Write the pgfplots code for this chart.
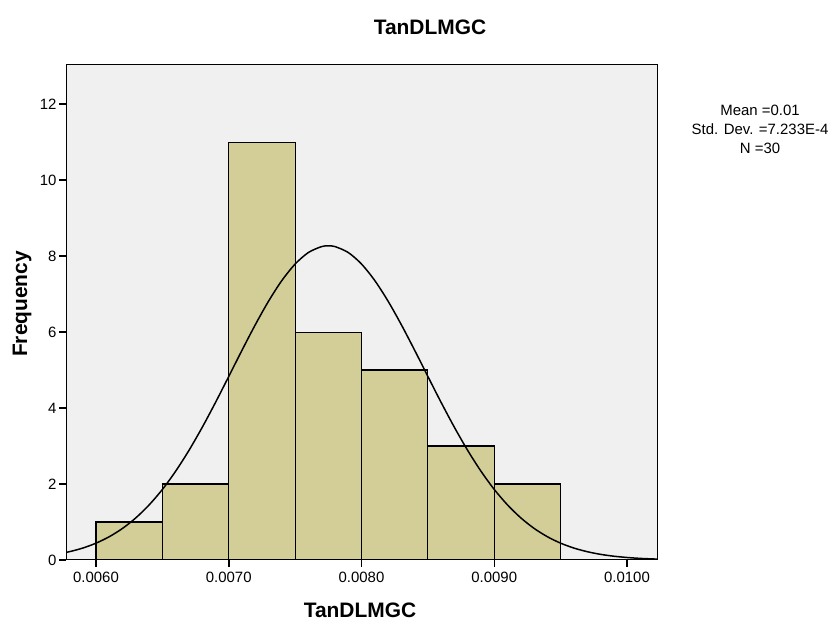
\documentclass[border=0pt]{standalone}
\usepackage{fontspec}
\setmainfont{Liberation Sans}
\usepackage{pgfplots}
\pgfplotsset{compat=1.18}
\definecolor{barfill}{HTML}{D3CE97}
\definecolor{plotbg}{HTML}{F0F0F0}

\begin{document}
\begin{tikzpicture}[x=1bp,y=1bp]
\useasboundingbox (0,0) rectangle (829,621);
\begin{axis}[
    at={(66bp,61bp)}, anchor=south west,
    scale only axis,
    width=591bp, height=495bp,
    xmin=0.005774, xmax=0.010226,
    ymin=0, ymax=13.03,
    xtick={0.006,0.007,0.008,0.009,0.010},
    xticklabels={0.0060,0.0070,0.0080,0.0090,0.0100},
    ytick={0,2,4,6,8,10,12},
    xtick pos=bottom, ytick pos=left,
    tick align=outside,
    major tick length=7bp,
    every tick/.style={black, line width=1.5pt},
    axis background/.style={fill=plotbg},
    axis line style={line width=1pt},
    tick label style={font=\fontsize{15}{17}\selectfont},
    xticklabel style={yshift=-2bp},
    yticklabel style={xshift=1bp},
    /pgf/number format/assume math mode=true,
    scaled x ticks=false,
    clip=true,
]
\addplot[ybar interval, fill=barfill, draw=black, line width=1.1pt]
    coordinates {
    (0.0060,1)(0.0065,2)(0.0070,11)(0.0075,6)(0.0080,5)(0.0085,3)(0.0090,2)(0.0095,2)
    };
\addplot[black, line width=1.5pt, smooth]
    coordinates {
    (0.0057,0.149)(0.0058,0.219)(0.0059,0.314)(0.0060,0.443)(0.0061,0.613)
    (0.0062,0.832)(0.0063,1.109)(0.0064,1.449)(0.0065,1.857)(0.0066,2.337)
    (0.0067,2.884)(0.0068,3.491)(0.0069,4.146)(0.0070,4.831)(0.0071,5.523)
    (0.0072,6.193)(0.0073,6.814)(0.0074,7.356)(0.0075,7.790)(0.0076,8.094)
    (0.0077,8.250)(0.00775,8.270)(0.0078,8.250)(0.0079,8.094)(0.0080,7.790)
    (0.0081,7.356)(0.0082,6.814)(0.0083,6.193)(0.0084,5.523)(0.0085,4.831)
    (0.0086,4.146)(0.0087,3.491)(0.0088,2.884)(0.0089,2.337)(0.0090,1.857)
    (0.0091,1.449)(0.0092,1.109)(0.0093,0.832)(0.0094,0.613)(0.0095,0.443)
    (0.0096,0.314)(0.0097,0.219)(0.0098,0.149)(0.0099,0.100)(0.0100,0.066)
    (0.0101,0.042)(0.0102,0.027)(0.0103,0.017)
    };
\end{axis}
\node[font=\fontsize{21}{24}\selectfont\bfseries] at (430,594) {TanDLMGC};
\node[font=\fontsize{21}{24}\selectfont\bfseries] at (360,11) {TanDLMGC};
\node[font=\fontsize{21}{24}\selectfont\bfseries, rotate=90] at (22,317) {Frequency};
\node[font=\fontsize{15}{19}\selectfont, align=center, anchor=north, inner sep=0pt] at (760,516)
    {Mean =0.01\\Std. Dev. =7.233E-4\\N =30};
\end{tikzpicture}
\end{document}
